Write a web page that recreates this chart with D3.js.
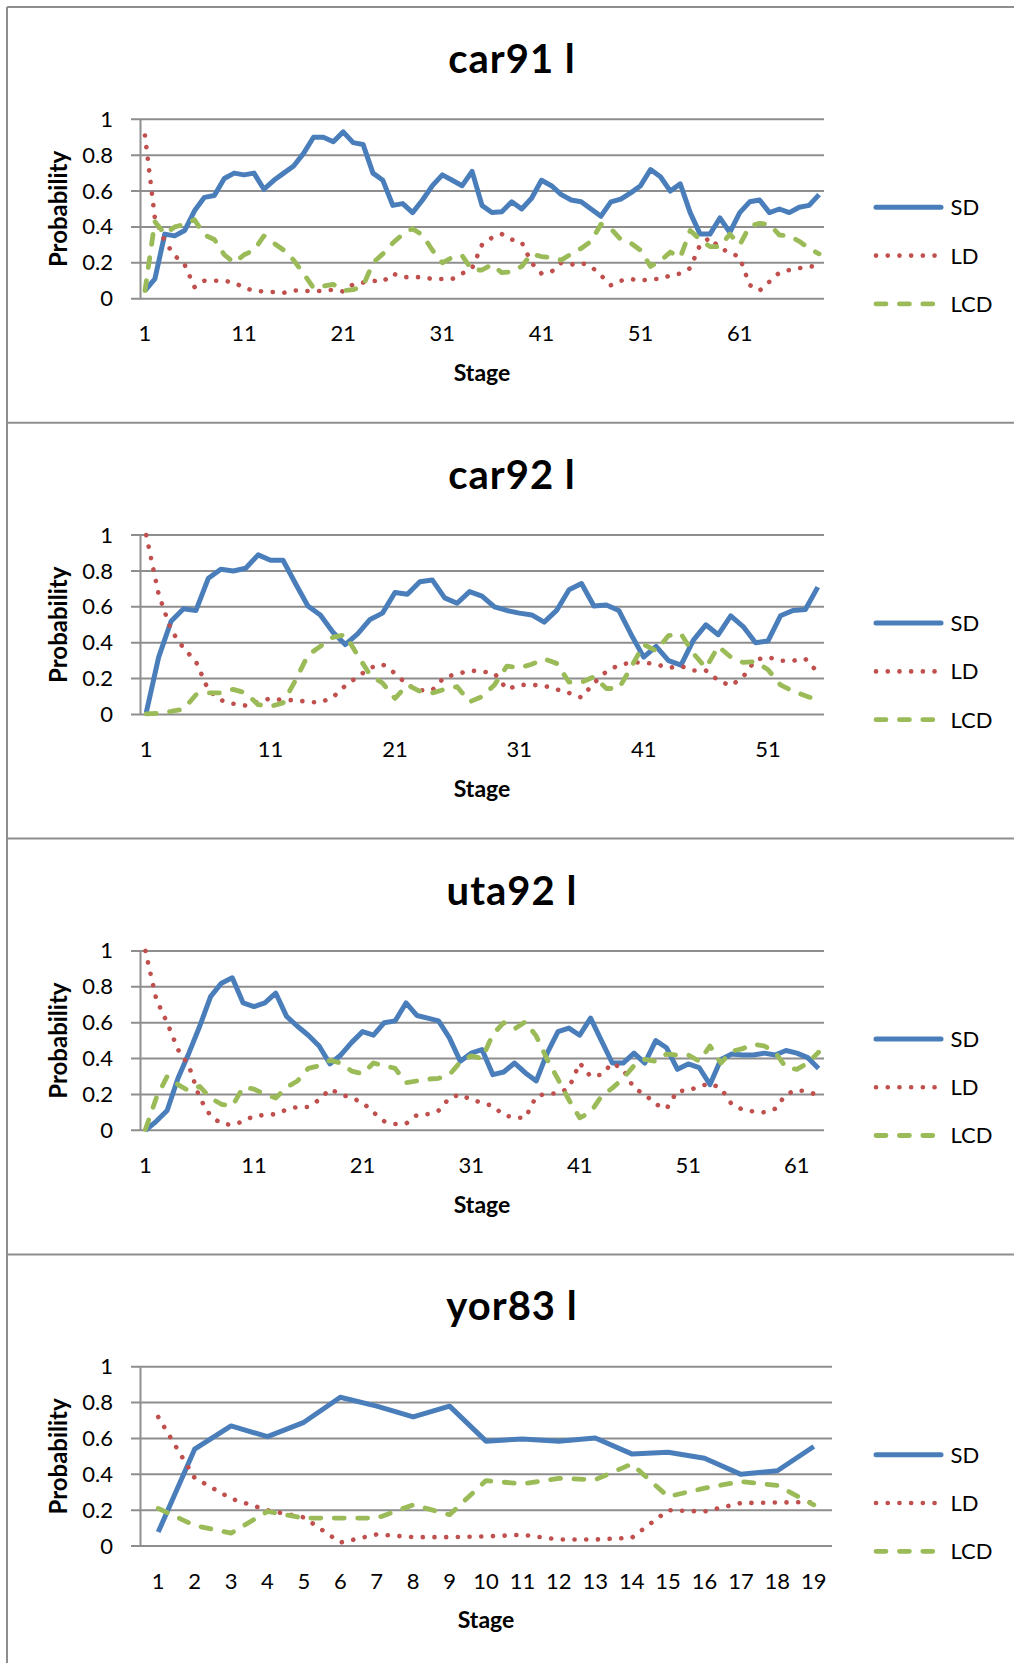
<!DOCTYPE html>
<html>
<head>
<meta charset="utf-8">
<script src="https://cdn.jsdelivr.net/npm/d3@7"></script>
<style>
  body { margin: 0; background: #fff; }
  svg { display: block; font-family: Lato, "Open Sans", sans-serif; }
</style>
</head>
<body>
<div id="chart"></div>
<script>
// legend / series names
const seriesNames = ["SD", "LD", "LCD"];
const yTicks = [0, 0.2, 0.4, 0.6, 0.8, 1];

// car91 l
const car91SD = [0.045, 0.11, 0.36, 0.35, 0.38, 0.49, 0.565, 0.575, 0.67, 0.70,
  0.69, 0.70, 0.61, 0.66, 0.70, 0.74, 0.81, 0.90, 0.90, 0.875,
  0.93, 0.87, 0.86, 0.70, 0.66, 0.52, 0.53, 0.48, 0.55, 0.63,
  0.69, 0.66, 0.63, 0.71, 0.52, 0.48, 0.485, 0.54, 0.50, 0.56,
  0.66, 0.63, 0.58, 0.55, 0.54, 0.50, 0.46, 0.54, 0.555, 0.59,
  0.63, 0.72, 0.68, 0.60, 0.64, 0.48, 0.36, 0.36, 0.45, 0.37,
  0.48, 0.54, 0.55, 0.48, 0.50, 0.48, 0.51, 0.52, 0.58];
const car91LD = [0.91, 0.45, 0.32, 0.24, 0.19, 0.065, 0.10, 0.10, 0.10, 0.09,
  0.06, 0.045, 0.04, 0.037, 0.033, 0.046, 0.045, 0.04, 0.045, 0.05,
  0.04, 0.08, 0.09, 0.10, 0.095, 0.14, 0.12, 0.12, 0.12, 0.11,
  0.11, 0.11, 0.14, 0.17, 0.30, 0.34, 0.36, 0.33, 0.315, 0.20,
  0.14, 0.15, 0.20, 0.19, 0.20, 0.18, 0.13, 0.075, 0.10, 0.11,
  0.10, 0.11, 0.11, 0.13, 0.14, 0.17, 0.30, 0.34, 0.28, 0.26,
  0.23, 0.076, 0.045, 0.095, 0.145, 0.16, 0.17, 0.18, 0.18];
const car91LCD = [0.045, 0.43, 0.36, 0.40, 0.415, 0.44, 0.355, 0.33, 0.245, 0.20,
  0.245, 0.27, 0.35, 0.31, 0.27, 0.215, 0.14, 0.06, 0.07, 0.08,
  0.045, 0.05, 0.07, 0.20, 0.25, 0.31, 0.36, 0.39, 0.355, 0.27,
  0.20, 0.23, 0.24, 0.16, 0.16, 0.19, 0.145, 0.15, 0.18, 0.25,
  0.235, 0.23, 0.215, 0.25, 0.28, 0.32, 0.415, 0.39, 0.33, 0.31,
  0.27, 0.18, 0.21, 0.26, 0.23, 0.38, 0.33, 0.29, 0.29, 0.36,
  0.30, 0.405, 0.42, 0.415, 0.355, 0.35, 0.32, 0.28, 0.25];
const car91Ticks = [1, 11, 21, 31, 41, 51, 61];

// car92 l
const car92SD = [0.01, 0.32, 0.52, 0.59, 0.58, 0.76, 0.81, 0.80, 0.815, 0.89,
  0.86, 0.86, 0.73, 0.605, 0.555, 0.46, 0.39, 0.45, 0.53, 0.565,
  0.68, 0.67, 0.74, 0.75, 0.65, 0.62, 0.685, 0.66, 0.60, 0.58,
  0.565, 0.555, 0.515, 0.58, 0.695, 0.73, 0.605, 0.61, 0.58, 0.445,
  0.32, 0.38, 0.30, 0.275, 0.415, 0.50, 0.445, 0.55, 0.49, 0.40,
  0.41, 0.55, 0.58, 0.585, 0.71];
const car92LD = [1.0, 0.67, 0.47, 0.37, 0.295, 0.135, 0.08, 0.06, 0.05, 0.07,
  0.09, 0.08, 0.08, 0.07, 0.067, 0.095, 0.16, 0.21, 0.26, 0.28,
  0.23, 0.165, 0.135, 0.135, 0.21, 0.225, 0.245, 0.24, 0.23, 0.14,
  0.165, 0.165, 0.16, 0.14, 0.12, 0.095, 0.175, 0.24, 0.275, 0.29,
  0.29, 0.28, 0.26, 0.27, 0.245, 0.245, 0.19, 0.16, 0.21, 0.305,
  0.32, 0.30, 0.30, 0.31, 0.235];
const car92LCD = [0.004, 0.007, 0.017, 0.03, 0.11, 0.12, 0.12, 0.14, 0.12, 0.055,
  0.045, 0.065, 0.19, 0.33, 0.38, 0.43, 0.445, 0.33, 0.22, 0.175,
  0.09, 0.165, 0.13, 0.12, 0.14, 0.155, 0.07, 0.10, 0.165, 0.27,
  0.26, 0.28, 0.31, 0.285, 0.18, 0.18, 0.21, 0.145, 0.145, 0.265,
  0.39, 0.355, 0.44, 0.45, 0.34, 0.26, 0.38, 0.32, 0.29, 0.295,
  0.25, 0.165, 0.13, 0.105, 0.08];
const car92Ticks = [1, 11, 21, 31, 41, 51];

// uta92 l
const uta92SD = [0.0, 0.05, 0.11, 0.29, 0.43, 0.58, 0.745, 0.82, 0.85, 0.71,
  0.69, 0.71, 0.765, 0.635, 0.58, 0.53, 0.47, 0.37, 0.42, 0.49,
  0.55, 0.53, 0.60, 0.61, 0.71, 0.64, 0.625, 0.61, 0.515, 0.385,
  0.43, 0.45, 0.31, 0.325, 0.375, 0.32, 0.275, 0.43, 0.55, 0.57,
  0.53, 0.625, 0.50, 0.375, 0.375, 0.43, 0.375, 0.50, 0.46, 0.34,
  0.37, 0.35, 0.255, 0.395, 0.425, 0.42, 0.42, 0.43, 0.42, 0.445,
  0.43, 0.405, 0.345];
const uta92LD = [1.0, 0.73, 0.60, 0.45, 0.36, 0.18, 0.08, 0.037, 0.03, 0.05,
  0.08, 0.085, 0.09, 0.115, 0.13, 0.13, 0.17, 0.23, 0.20, 0.18,
  0.155, 0.10, 0.05, 0.035, 0.037, 0.085, 0.09, 0.11, 0.18, 0.20,
  0.17, 0.155, 0.135, 0.085, 0.07, 0.07, 0.19, 0.205, 0.205, 0.235,
  0.375, 0.30, 0.31, 0.375, 0.34, 0.235, 0.20, 0.145, 0.12, 0.22,
  0.22, 0.245, 0.26, 0.235, 0.145, 0.115, 0.105, 0.10, 0.12, 0.20,
  0.225, 0.215, 0.195];
const uta92LCD = [0.005, 0.18, 0.30, 0.255, 0.22, 0.245, 0.18, 0.145, 0.135, 0.24,
  0.23, 0.20, 0.18, 0.24, 0.275, 0.345, 0.36, 0.39, 0.375, 0.33,
  0.315, 0.375, 0.36, 0.345, 0.265, 0.275, 0.285, 0.29, 0.31, 0.38,
  0.415, 0.40, 0.535, 0.60, 0.565, 0.605, 0.525, 0.395, 0.285, 0.17,
  0.07, 0.10, 0.19, 0.235, 0.29, 0.36, 0.395, 0.385, 0.425, 0.42,
  0.42, 0.385, 0.47, 0.375, 0.44, 0.455, 0.48, 0.47, 0.435, 0.35,
  0.34, 0.375, 0.435];
const uta92Ticks = [1, 11, 21, 31, 41, 51, 61];

// yor83 l
const yor83SD = [0.078, 0.54, 0.67, 0.61, 0.69, 0.83, 0.78, 0.72, 0.78, 0.585,
  0.597, 0.585, 0.603, 0.514, 0.523, 0.49, 0.40, 0.42, 0.555];
const yor83LD = [0.72, 0.38, 0.265, 0.20, 0.16, 0.02, 0.065, 0.05, 0.05, 0.054,
  0.063, 0.037, 0.037, 0.046, 0.20, 0.193, 0.24, 0.243, 0.245];
const yor83LCD = [0.21, 0.115, 0.072, 0.193, 0.156, 0.156, 0.156, 0.23, 0.175, 0.365,
  0.347, 0.378, 0.37, 0.458, 0.276, 0.323, 0.36, 0.338, 0.23];
const yor83Ticks = [1, 2, 3, 4, 5, 6, 7, 8, 9, 10, 11, 12, 13, 14, 15, 16, 17, 18, 19];

const panels = [
  {title: "car91 l", series: [car91SD, car91LD, car91LCD], ticks: car91Ticks, right: 824},
  {title: "car92 l", series: [car92SD, car92LD, car92LCD], ticks: car92Ticks, right: 824},
  {title: "uta92 l", series: [uta92SD, uta92LD, uta92LCD], ticks: uta92Ticks, right: 824},
  {title: "yor83 l", series: [yor83SD, yor83LD, yor83LCD], ticks: yor83Ticks, right: 832}
];

// line styles: solid blue, round dots red, dashes green
const styles = [
  {color: "#4a7ebb", width: 5, dash: null},
  {color: "#c0504d", width: 4.6, dash: "0.1 11.6"},
  {color: "#9bbb59", width: 4.8, dash: "10 13.4"}
];

const W = 1014, H = 1663;
const pitch = 415.8;   // vertical distance between panels
const plotLeft = 140, plotTop = 119.3, plotBottom = 298.7;
const gridColor = "#8e8e8e";

const svg = d3.select("#chart").append("svg")
  .attr("width", W)
  .attr("height", H);

// outer frame + separators
const frame = svg.append("g")
  .style("stroke", gridColor)
  .style("stroke-width", 2);
frame.append("line").attr("x1", 7).attr("y1", 7).attr("x2", 7).attr("y2", H);
frame.append("line").attr("x1", 7).attr("y1", 7).attr("x2", W).attr("y2", 7);
[1, 2, 3].forEach(function (k) {
  frame.append("line")
    .attr("x1", 7).attr("x2", W)
    .attr("y1", 7 + k * pitch).attr("y2", 7 + k * pitch);
});

panels.forEach(function (p, k) {
  const g = svg.append("g").attr("transform", "translate(0," + (k * pitch) + ")");
  const n = p.series[0].length;

  const x = d3.scaleBand()
    .domain(d3.range(1, n + 1))
    .range([plotLeft, p.right]);
  const y = d3.scaleLinear()
    .domain([0, 1])
    .range([plotBottom, plotTop]);
  const cx = function (i) { return x(i) + x.bandwidth() / 2; };

  //Gridlines
  g.append("g").selectAll("line")
    .data(yTicks)
    .enter().append("line")
    .attr("x1", plotLeft - 9)
    .attr("x2", p.right)
    .attr("y1", function (d) { return y(d); })
    .attr("y2", function (d) { return y(d); })
    .style("stroke", gridColor)
    .style("stroke-width", 2);

  //Y axis
  const yAxis = g.append("g")
    .attr("transform", "translate(" + plotLeft + ",0)")
    .call(d3.axisLeft(y).tickValues(yTicks).tickSize(0).tickSizeOuter(0).tickPadding(27)
      .tickFormat(d3.format("")));
  yAxis.select(".domain").style("stroke", gridColor).style("stroke-width", 2);
  yAxis.selectAll("text")
    .style("font-size", "22px")
    .style("font-family", "Lato")
    .style("fill", "#000");

  //X axis
  const xAxis = g.append("g")
    .attr("transform", "translate(0," + plotBottom + ")")
    .call(d3.axisBottom(x).tickValues(p.ticks).tickSize(0).tickSizeOuter(0).tickPadding(27));
  xAxis.select(".domain").remove();
  xAxis.selectAll("text")
    .style("font-size", "22px")
    .style("font-family", "Lato")
    .style("fill", "#000");

  //Titles
  g.append("text")
    .attr("x", 512)
    .attr("y", 73)
    .attr("text-anchor", "middle")
    .style("font-size", "40px")
    .style("letter-spacing", "1px")
    .style("font-weight", "bold")
    .text(p.title);

  g.append("text")
    .attr("x", (plotLeft + p.right) / 2)
    .attr("y", 381)
    .attr("text-anchor", "middle")
    .style("font-size", "23px")
    .style("font-weight", "bold")
    .text("Stage");

  g.append("text")
    .attr("transform", "translate(66.5," + ((plotTop + plotBottom) / 2) + ") rotate(-90)")
    .attr("text-anchor", "middle")
    .style("font-size", "24px")
    .style("font-weight", "bold")
    .text("Probability");

  //Series
  const line = d3.line()
    .x(function (d, i) { return cx(i + 1); })
    .y(function (d) { return y(d); });

  g.append("g").selectAll("path")
    .data(p.series)
    .enter().append("path")
    .attr("d", line)
    .style("fill", "none")
    .style("stroke", function (d, i) { return styles[i].color; })
    .style("stroke-width", function (d, i) { return styles[i].width; })
    .style("stroke-dasharray", function (d, i) { return styles[i].dash; })
    .style("stroke-linecap", function (d, i) { return styles[i].dash ? "round" : "butt"; })
    .style("stroke-linejoin", "round");

  //Legend
  const legend = g.append("g").selectAll("g")
    .data(seriesNames)
    .enter().append("g")
    .attr("transform", function (d, i) { return "translate(0," + (207.3 + i * 48.3) + ")"; });
  legend.append("line")
    .attr("x1", 876)
    .attr("x2", 941)
    .style("stroke", function (d, i) { return styles[i].color; })
    .style("stroke-width", function (d, i) { return styles[i].width; })
    .style("stroke-dasharray", function (d, i) { return styles[i].dash; })
    .style("stroke-linecap", "round");
  legend.append("text")
    .attr("x", 950.5)
    .attr("dy", "0.36em")
    .style("font-size", "22px")
    .text(function (d) { return d; });
});
</script>
</body>
</html>
